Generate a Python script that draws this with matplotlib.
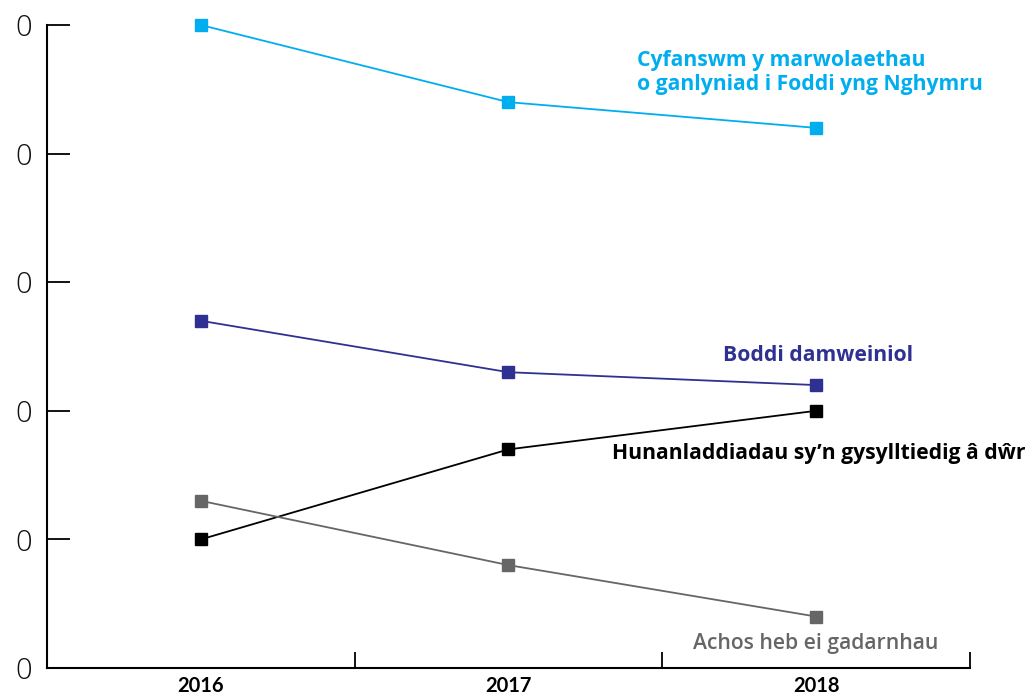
import numpy as np
import matplotlib
matplotlib.use("Agg")
import matplotlib.pyplot as plt
from matplotlib.ticker import FixedLocator

# data
blynyddoedd = ["2016", "2017", "2018"]
cyfanswm = [50, 44, 42]
boddi_damweiniol = [27, 23, 22]
hunanladdiadau = [10, 17, 20]
achos_heb = [13, 8, 4]
yticks = [0, 10, 20, 30, 40, 50]
# only the last digit of each y label shows in the reference (left edge is cropped)
ytick_labels = ["0", "0", "0", "0", "0", "0"]

glas = "#00AEEF"
glas_tywyll = "#2E3192"
du = "#000000"
llwyd = "#666666"

plt.rcParams['font.family'] = ['Lato', 'DejaVu Sans']

fig = plt.figure(figsize=(10.32, 6.97), dpi=100)
ax = fig.add_axes([47/1032, 29/697, 923/1032, 643/697])

x = np.arange(len(blynyddoedd))
for ys, c in [(cyfanswm, glas), (boddi_damweiniol, glas_tywyll),
              (hunanladdiadau, du), (achos_heb, llwyd)]:
    ax.plot(x, ys, color=c, lw=1.3, marker="s", ms=8.5, clip_on=False, zorder=3)

ax.set_xlim(-0.5, 2.5)
ax.set_ylim(0, 50)

for s in ["top", "right"]:
    ax.spines[s].set_visible(False)
for s in ["left", "bottom"]:
    ax.spines[s].set_linewidth(1.5)

ax.xaxis.set_major_locator(FixedLocator([-0.5, 0.5, 1.5, 2.5]))
ax.xaxis.set_minor_locator(FixedLocator(x))
ax.set_xticklabels([], minor=False)
ax.set_xticklabels(blynyddoedd, minor=True, fontsize=14.5, fontweight="bold")
ax.tick_params(axis="x", which="major", direction="in", length=11.5, width=1.3)
ax.tick_params(axis="x", which="minor", length=0, pad=6)

ax.set_yticks(yticks)
ax.set_yticklabels(ytick_labels, fontsize=21, fontweight="light", color="#111111",
                   family=['Open Sans', 'DejaVu Sans'])
ax.tick_params(axis="y", direction="in", length=16.5, width=1.3, pad=11)

lab = dict(family=['Open Sans', 'DejaVu Sans'], fontsize=15.2, fontweight="bold")
ax.text(1.417, 46.3, "Cyfanswm y marwolaethau\no ganlyniad i Foddi yng Nghymru",
        color=glas, ha="left", va="center", linespacing=1.2, **lab)
ax.text(2.006, 24.3, "Boddi damweiniol", color=glas_tywyll,
        ha="center", va="center", **lab)
ax.text(1.336, 16.7, "Hunanladdiadau sy\u2019n gysylltiedig \u00e2 d\u0175r", color=du,
        ha="left", va="center", clip_on=False, **lab)
ax.text(2.0, 1.87, "Achos heb ei gadarnhau", color=llwyd,
        ha="center", va="center", family=['Open Sans', 'DejaVu Sans'],
        fontsize=15.2, fontweight="semibold")

fig.savefig("out.png", dpi=100)
